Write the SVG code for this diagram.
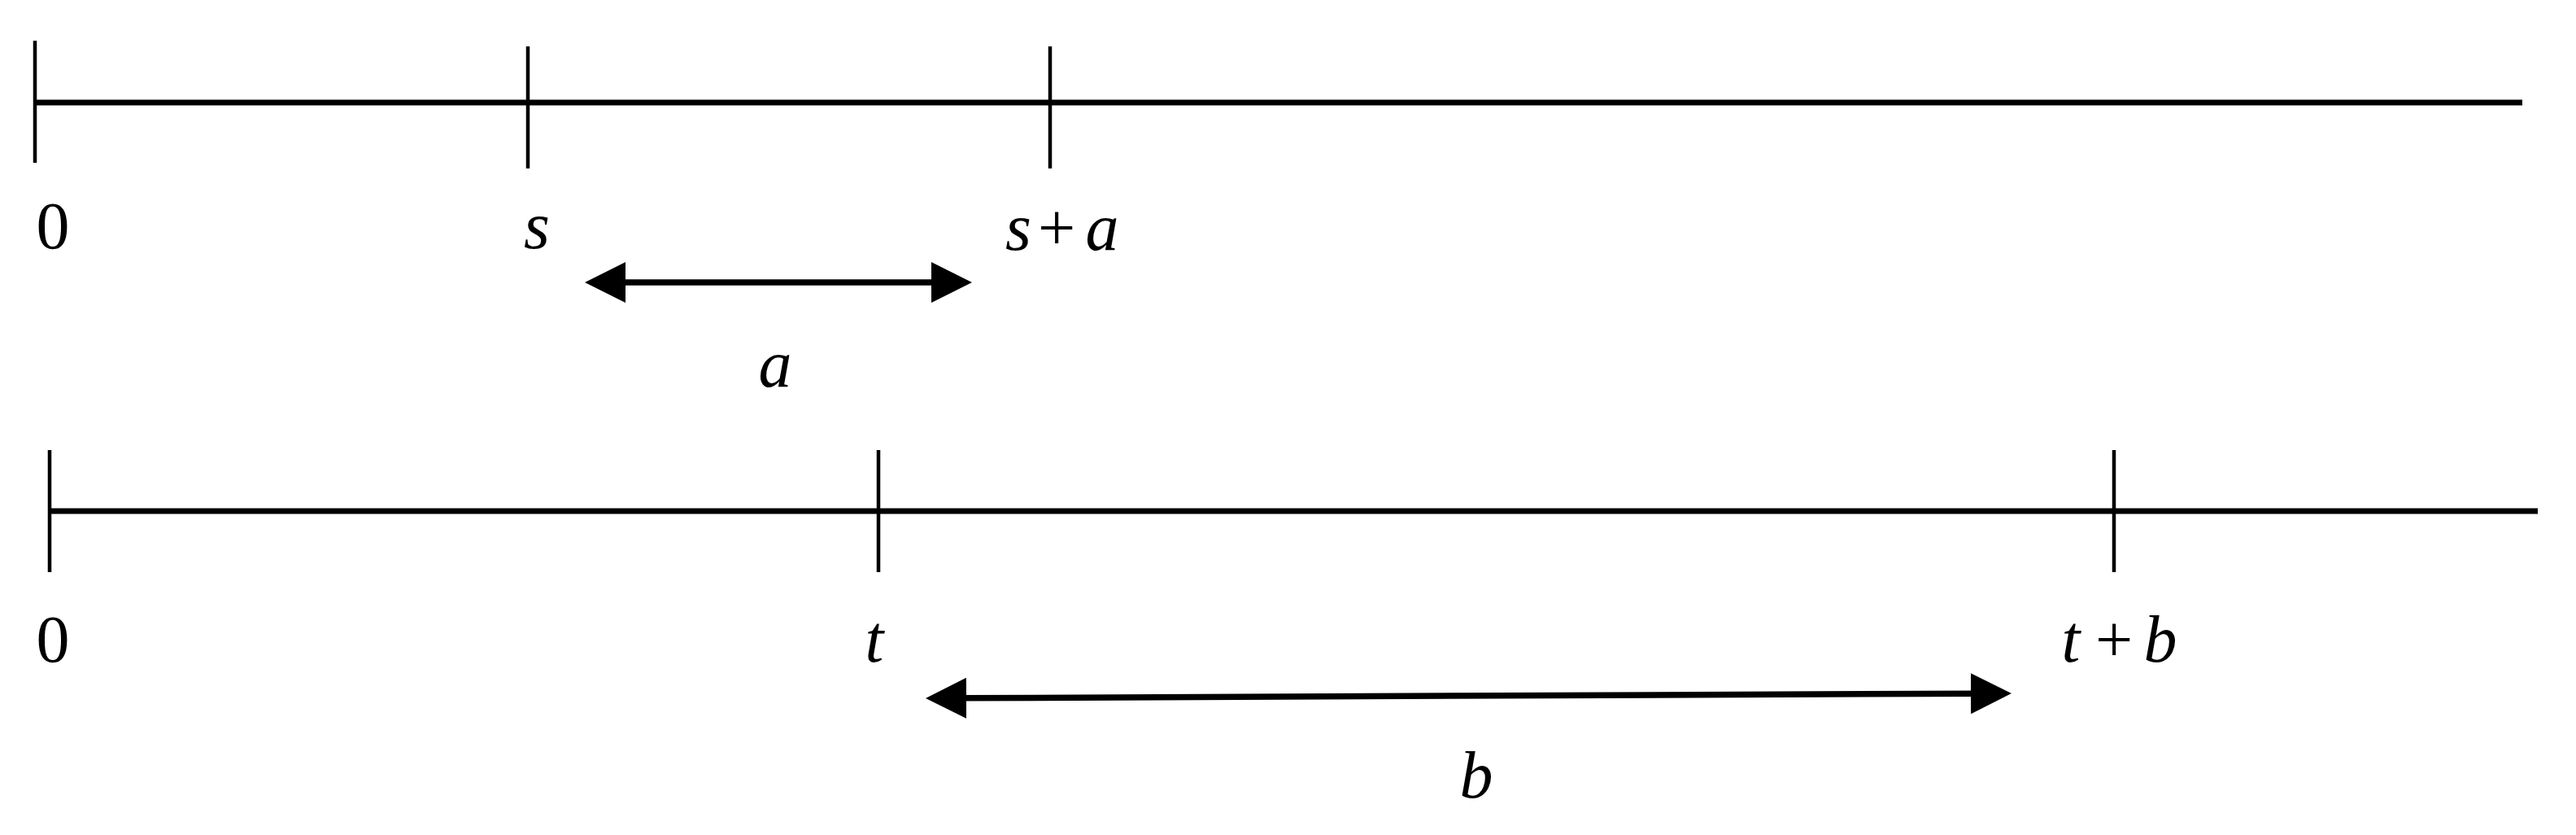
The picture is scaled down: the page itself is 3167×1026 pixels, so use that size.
<svg xmlns="http://www.w3.org/2000/svg" width="3167" height="1026" viewBox="0 0 3167 1026">
<style>
.axis{stroke:#000;stroke-width:7;fill:none}
.tick{stroke:#000;stroke-width:4.5;fill:none}
.dim{stroke:#000;stroke-width:7.5;fill:none;marker-start:url(#ah);marker-end:url(#ah)}
text{font-family:"Liberation Serif","Times New Roman",serif;font-size:82px;fill:#000;text-anchor:middle}
.i{font-style:italic}
</style>
<defs>
<marker id="ah" markerUnits="userSpaceOnUse" viewBox="0 0 50 50" markerWidth="50" markerHeight="50" refX="10" refY="25" orient="auto-start-reverse">
<path d="M0,0 L50,25 L0,50 Z" fill="#000"/>
</marker>
</defs>
<rect width="3167" height="1026" fill="#fff"/>
<g id="axis-top">
<line class="axis" x1="43" y1="126" x2="3101" y2="126"/>
<line class="tick" x1="43" y1="50" x2="43" y2="200"/>
<line class="tick" x1="649" y1="57" x2="649" y2="207"/>
<line class="tick" x1="1291" y1="57" x2="1291" y2="207"/>
</g>
<g id="labels-top">
<text x="65" y="305">0</text>
<text class="i" x="660" y="305">s</text>
<text y="307"><tspan class="i" x="1252">s</tspan><tspan x="1299">+</tspan><tspan class="i" x="1355">a</tspan></text>
<text class="i" x="953" y="475">a</text>
</g>
<g id="axis-bottom">
<line class="axis" x1="61" y1="628" x2="3120" y2="628"/>
<line class="tick" x1="61" y1="553" x2="61" y2="703"/>
<line class="tick" x1="1080" y1="553" x2="1080" y2="703"/>
<line class="tick" x1="2599" y1="553" x2="2599" y2="703"/>
</g>
<g id="labels-bottom">
<text x="65" y="813">0</text>
<text class="i" x="1075" y="813">t</text>
<text y="813"><tspan class="i" x="2546">t</tspan><tspan x="2599">+</tspan><tspan class="i" x="2656">b</tspan></text>
<text class="i" x="1815" y="980">b</text>
</g>
<g id="connectors">
<line class="dim" x1="759" y1="347" x2="1155" y2="347"/>
<line class="dim" x1="1178" y1="857.8" x2="2433" y2="852.2"/>
</g>
</svg>
